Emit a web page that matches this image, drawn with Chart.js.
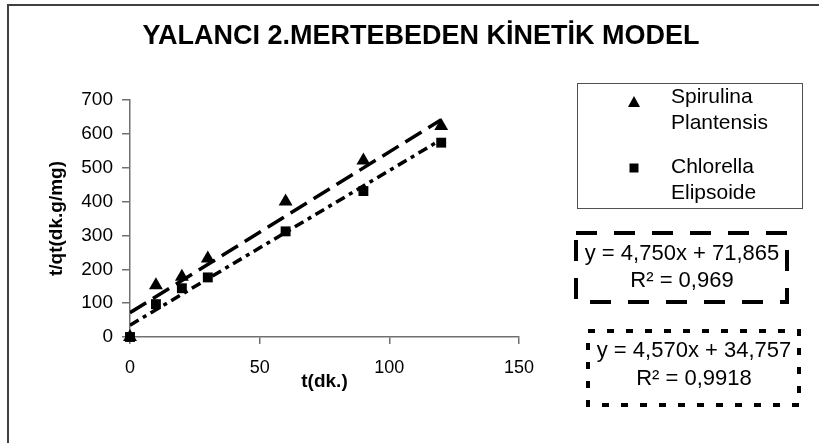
<!DOCTYPE html>
<html>
<head>
<meta charset="utf-8">
<title>YALANCI 2.MERTEBEDEN KİNETİK MODEL</title>
<script src="https://cdn.jsdelivr.net/npm/chart.js@4/dist/chart.umd.min.js"></script>
<style>
  html, body { margin: 0; padding: 0; background: #ffffff; }
  #wrap { width: 819px; height: 443px; position: relative; }
</style>
</head>
<body>
<div id="wrap"><canvas id="kinetik" width="819" height="443"></canvas></div>
<script>
// Contact time (min) and t/qt values for the two algae
const tMinutes = [0, 10, 20, 30, 60, 90, 120];
const spirulinaTq = [0, 153, 178, 232, 400, 521, 623];
const chlorellaTq = [0, 97, 144, 176, 312, 431, 574];

// Linear fits (pseudo second order), as printed in the boxes
const spirulinaFit = [4.750, 71.865];   // slope, intercept
const chlorellaFit = [4.570, 34.757];
const fitRange = [0, 120];

const chartTitle = 'YALANCI 2.MERTEBEDEN KİNETİK MODEL';
const xAxisTitle = 't(dk.)';
const yAxisTitle = 't/qt(dk.g/mg)';
const xTickValues = [0, 50, 100, 150];
const yTickValues = [0, 100, 200, 300, 400, 500, 600, 700];
const legendLines = [['Spirulina', 'Plantensis'], ['Chlorella', 'Elipsoide']];
const spirulinaEq = ['y = 4,750x + 71,865', 'R² = 0,969'];
const chlorellaEq = ['y = 4,570x + 34,757', 'R² = 0,9918'];

const FONT = '"Liberation Sans", Arial, Helvetica, sans-serif';

const toPoints = (xs, ys) => xs.map((x, i) => ({ x: x, y: ys[i] }));
const fitLine = (fit) => fitRange.map(x => ({ x: x, y: fit[0] * x + fit[1] }));

// Frame, title, legend box and equation boxes
const decorations = {
  id: 'decorations',
  beforeDraw(chart) {
    const ctx = chart.ctx;
    ctx.save();
    ctx.fillStyle = '#ffffff';
    ctx.fillRect(0, 0, chart.width, chart.height);
    ctx.strokeStyle = '#404040';
    ctx.lineWidth = 2;
    ctx.strokeRect(8, 5, chart.width + 20, chart.height + 20);
    ctx.restore();
  },
  afterDraw(chart) {
    const ctx = chart.ctx;
    ctx.save();
    ctx.fillStyle = '#000000';
    ctx.textAlign = 'center';
    ctx.textBaseline = 'middle';
    ctx.font = 'bold 27px ' + FONT;
    ctx.fillText(chartTitle, 421, 37);

    // legend
    ctx.strokeStyle = '#505050';
    ctx.lineWidth = 1;
    ctx.strokeRect(577.5, 83.5, 225, 125);
    ctx.font = '21px ' + FONT;
    ctx.textAlign = 'left';
    const rows = [[102, 97], [168, 167]];
    legendLines.forEach((lines, i) => {
      const my = rows[i][0];
      ctx.beginPath();
      if (i === 0) {
        ctx.moveTo(634, my - 6);
        ctx.lineTo(640, my + 5);
        ctx.lineTo(628, my + 5);
        ctx.closePath();
      } else {
        ctx.rect(629.5, my - 4.5, 9, 9);
      }
      ctx.fill();
      lines.forEach((txt, j) => ctx.fillText(txt, 671, rows[i][1] + j * 26));
    });

    // equation boxes
    ctx.strokeStyle = '#000000';
    ctx.lineWidth = 4;
    ctx.setLineDash([21, 17]);
    ctx.strokeRect(576, 233, 211, 69);
    ctx.setLineDash([7, 12]);
    ctx.strokeRect(588, 331, 211, 74);
    ctx.setLineDash([]);
    ctx.font = '22px ' + FONT;
    ctx.textAlign = 'center';
    ctx.fillText(spirulinaEq[0], 682, 254);
    ctx.fillText(spirulinaEq[1], 682, 281);
    ctx.fillText(chlorellaEq[0], 694, 351);
    ctx.fillText(chlorellaEq[1], 694, 379);
    ctx.restore();
  }
};

new Chart(document.getElementById('kinetik'), {
  type: 'scatter',
  data: {
    datasets: [
      {
        label: 'Spirulina Plantensis',
        data: toPoints(tMinutes, spirulinaTq),
        pointStyle: 'triangle',
        pointRadius: 8,
        pointHoverRadius: 8,
        backgroundColor: '#000000',
        borderColor: '#000000',
        borderWidth: 0,
        clip: false
      },
      {
        label: 'Chlorella Elipsoide',
        data: toPoints(tMinutes, chlorellaTq),
        pointStyle: 'rect',
        pointRadius: 7,
        pointHoverRadius: 7,
        backgroundColor: '#000000',
        borderColor: '#000000',
        borderWidth: 0,
        clip: false
      },
      {
        label: 'Spirulina fit',
        type: 'line',
        data: fitLine(spirulinaFit),
        showLine: true,
        borderColor: '#000000',
        borderWidth: 3.5,
        borderDash: [19, 8],
        pointRadius: 0,
        fill: false
      },
      {
        label: 'Chlorella fit',
        type: 'line',
        data: fitLine(chlorellaFit),
        showLine: true,
        borderColor: '#000000',
        borderWidth: 3.5,
        borderDash: [10, 5, 4, 5],
        pointRadius: 0,
        fill: false
      }
    ]
  },
  options: {
    responsive: false,
    animation: false,
    events: [],
    layout: { padding: { top: 100, right: 300, bottom: 0, left: 0 } },
    plugins: {
      legend: { display: false },
      title: { display: false },
      tooltip: { enabled: false }
    },
    scales: {
      x: {
        type: 'linear',
        min: xTickValues[0],
        max: xTickValues[xTickValues.length - 1],
        afterBuildTicks(scale) { scale.ticks = xTickValues.map(v => ({ value: v })); },
        afterFit(scale) { scale.height = 106; },
        grid: { drawOnChartArea: false, drawTicks: true, tickLength: 7, color: '#707070', lineWidth: 1.5 },
        border: { display: true, color: '#707070', width: 1.5 },
        ticks: { color: '#000000', font: { family: FONT, size: 18 }, padding: 13, maxRotation: 0 },
        title: { display: true, text: xAxisTitle, color: '#000000', font: { family: FONT, size: 19, weight: 'bold' }, padding: { top: 0, bottom: 50 } }
      },
      y: {
        type: 'linear',
        min: yTickValues[0],
        max: yTickValues[yTickValues.length - 1],
        afterBuildTicks(scale) { scale.ticks = yTickValues.map(v => ({ value: v })); },
        afterFit(scale) { scale.width = 130; },
        grid: { drawOnChartArea: false, drawTicks: true, tickLength: 8, color: '#707070', lineWidth: 1.5 },
        border: { display: true, color: '#707070', width: 1.5 },
        ticks: { color: '#000000', font: { family: FONT, size: 19 }, padding: 9 },
        title: { display: true, text: yAxisTitle, color: '#000000', font: { family: FONT, size: 19, weight: 'bold' }, padding: { top: 45, bottom: 0 } }
      }
    }
  },
  plugins: [decorations]
});
</script>
</body>
</html>
